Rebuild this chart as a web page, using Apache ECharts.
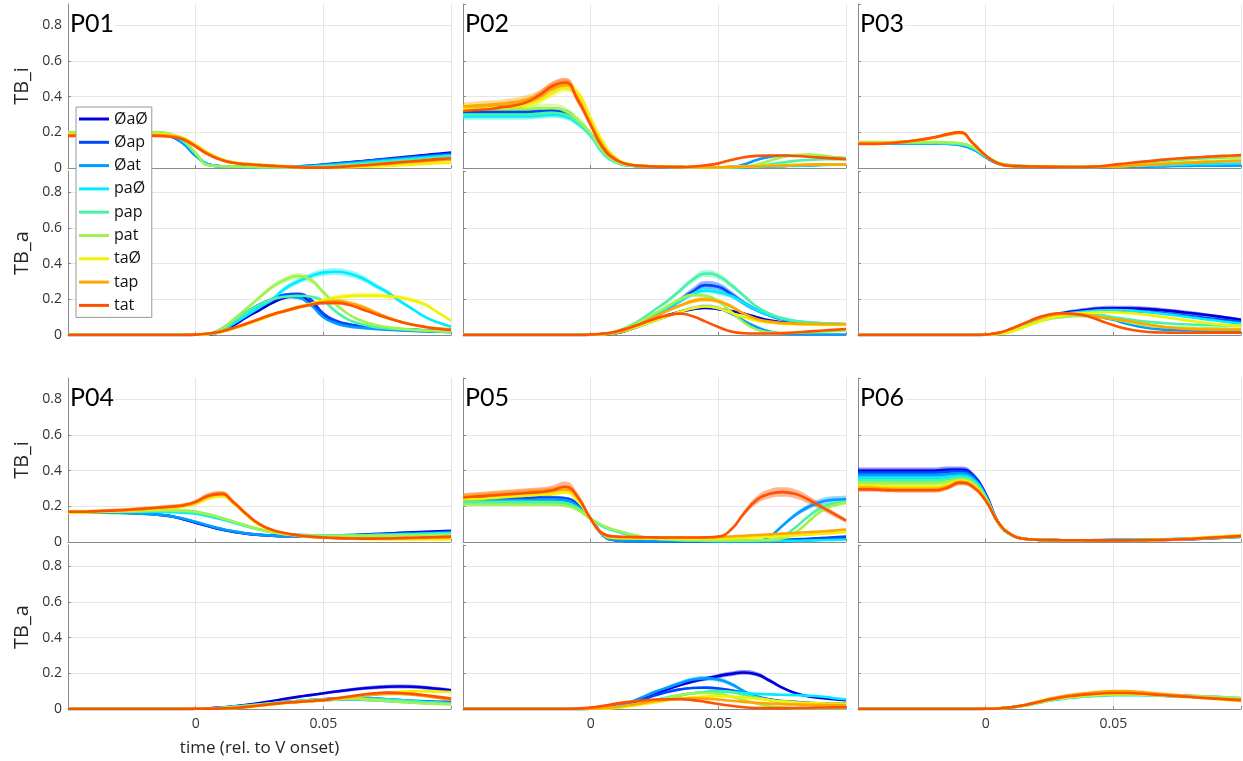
<!DOCTYPE html>
<html>
<head>
<meta charset="utf-8">
<script src="https://cdn.jsdelivr.net/npm/echarts@6.0.0/dist/echarts.min.js"></script>
<style>
html,body{margin:0;padding:0;background:#fff;}
#chart{width:1243px;height:761px;}
</style>
</head>
<body>
<div id="chart"></div>
<script>
// ---------- data ----------
const T = [-0.05,-0.045,-0.04,-0.035,-0.03,-0.025,-0.02,-0.015,-0.01,-0.005,0,0.005,0.01,0.015,0.02,0.025,0.03,0.035,0.04,0.045,0.05,0.055,0.06,0.065,0.07,0.075,0.08,0.085,0.09,0.095,0.1];
const NAMES = ['ØaØ','Øap','Øat','paØ','pap','pat','taØ','tap','tat'];
const PANELS = ['P01','P02','P03','P04','P05','P06'];
const Y_NAMES = ['TB_i','TB_a'];
const X_TITLE = 'time (rel. to V onset)';
const Y_TICK_LABELS = ['0','0.2','0.4','0.6','0.8'];
const X_TICK_VALUES = [0, 0.05];
const X_TICK_LABELS = ['0','0.05'];

// rows: ØaØ, Øap, Øat, paØ, pap, pat, taØ, tap, tat  (31 samples each, time = T)
const P01_TBi = [
[.19,.19,.19,.19,.19,.19,.19,.19,.18,.14,.07,.02,.01,.008,.006,.005,.005,.006,.008,.012,.018,.024,.031,.038,.045,.052,.059,.066,.073,.08,.087],
[.19,.19,.19,.19,.19,.19,.19,.19,.18,.14,.07,.02,.01,.008,.006,.005,.005,.006,.008,.013,.02,.026,.032,.038,.044,.05,.056,.062,.068,.074,.08],
[.19,.19,.19,.19,.19,.19,.19,.19,.18,.14,.07,.02,.01,.008,.006,.005,.005,.006,.008,.012,.017,.022,.028,.034,.04,.046,.052,.058,.063,.068,.073],
[.19,.19,.19,.19,.19,.19,.19,.19,.185,.15,.08,.02,.01,.008,.006,.005,.004,.004,.005,.008,.012,.017,.022,.028,.034,.04,.046,.052,.058,.064,.07],
[.195,.195,.195,.195,.195,.195,.2,.2,.19,.155,.08,.015,.01,.008,.006,.005,.004,.004,.004,.006,.009,.013,.018,.023,.028,.034,.04,.046,.052,.058,.064],
[.2,.2,.2,.2,.2,.2,.2,.2,.19,.16,.085,.015,.01,.008,.006,.005,.004,.003,.003,.004,.006,.01,.014,.018,.022,.027,.032,.037,.042,.046,.05],
[.19,.19,.19,.19,.19,.19,.19,.19,.185,.17,.13,.085,.05,.032,.024,.019,.014,.01,.006,.004,.003,.004,.005,.007,.009,.012,.015,.019,.023,.027,.03],
[.185,.185,.185,.185,.185,.185,.185,.185,.18,.165,.125,.08,.047,.03,.022,.017,.013,.009,.005,.003,.003,.005,.009,.013,.018,.023,.028,.033,.038,.043,.047],
[.18,.18,.18,.18,.18,.18,.18,.18,.175,.16,.12,.075,.045,.028,.021,.016,.012,.008,.004,.002,.002,.005,.01,.015,.02,.026,.032,.038,.044,.05,.055]
];
const P01_TBa = [
[0,0,0,0,0,0,0,0,0,0,.001,.003,.02,.055,.1,.14,.18,.21,.22,.18,.11,.075,.058,.048,.04,.035,.031,.028,.025,.022,.02],
[0,0,0,0,0,0,0,0,0,0,.001,.004,.03,.08,.13,.17,.2,.225,.23,.2,.12,.08,.06,.05,.043,.038,.034,.03,.027,.024,.022],
[0,0,0,0,0,0,0,0,0,0,.001,.005,.035,.085,.13,.17,.2,.215,.21,.17,.1,.065,.048,.04,.034,.03,.026,.023,.02,.018,.016],
[0,0,0,0,0,0,0,0,0,0,.001,.005,.025,.065,.11,.155,.2,.26,.3,.33,.35,.355,.345,.32,.28,.24,.19,.145,.1,.07,.047],
[0,0,0,0,0,0,0,0,0,0,.001,.005,.03,.08,.13,.17,.2,.215,.22,.215,.19,.13,.085,.06,.045,.037,.032,.028,.025,.022,.02],
[0,0,0,0,0,0,0,0,0,0,.001,.005,.035,.09,.15,.21,.27,.31,.33,.31,.24,.17,.115,.08,.058,.045,.036,.03,.025,.022,.02],
[0,0,0,0,0,0,0,0,0,0,.002,.006,.017,.035,.06,.085,.11,.135,.155,.175,.195,.21,.218,.222,.222,.218,.21,.195,.17,.125,.08],
[0,0,0,0,0,0,0,0,0,0,.002,.008,.02,.04,.065,.09,.115,.135,.155,.17,.185,.19,.18,.16,.13,.1,.075,.058,.045,.037,.032],
[0,0,0,0,0,0,0,0,0,0,.002,.008,.02,.04,.065,.09,.115,.135,.155,.17,.18,.18,.17,.145,.12,.095,.075,.058,.045,.035,.028]
];
const P02_TBi = [
[.31,.31,.31,.31,.31,.31,.315,.32,.31,.26,.19,.09,.035,.015,.01,.008,.006,.005,.004,.004,.004,.005,.006,.008,.01,.012,.014,.016,.018,.02,.02],
[.315,.315,.315,.315,.315,.315,.318,.322,.312,.262,.19,.09,.035,.015,.01,.008,.006,.005,.004,.004,.004,.005,.006,.008,.01,.012,.014,.016,.018,.02,.02],
[.3,.3,.3,.3,.3,.3,.305,.31,.3,.255,.185,.085,.033,.015,.01,.008,.006,.005,.004,.004,.004,.005,.02,.045,.062,.068,.07,.068,.063,.058,.055],
[.29,.29,.29,.29,.29,.29,.295,.3,.29,.25,.18,.08,.03,.014,.01,.008,.006,.005,.004,.004,.004,.004,.005,.006,.008,.01,.012,.014,.016,.018,.02],
[.3,.3,.3,.3,.3,.3,.305,.31,.3,.255,.185,.085,.033,.015,.01,.008,.006,.005,.004,.004,.004,.005,.007,.012,.02,.03,.04,.045,.048,.05,.05],
[.33,.33,.33,.33,.33,.33,.335,.335,.32,.27,.195,.09,.035,.015,.01,.008,.006,.005,.004,.004,.004,.005,.006,.02,.04,.06,.073,.075,.07,.062,.055],
[.33,.33,.335,.34,.345,.355,.38,.42,.45,.42,.28,.14,.055,.022,.013,.009,.007,.006,.005,.004,.004,.006,.009,.012,.014,.016,.018,.019,.02,.02,.02],
[.345,.35,.355,.36,.37,.385,.41,.45,.47,.39,.25,.12,.05,.02,.012,.009,.007,.006,.005,.004,.004,.006,.008,.01,.012,.014,.016,.018,.019,.02,.02],
[.32,.325,.33,.34,.35,.37,.41,.46,.48,.38,.24,.11,.045,.02,.012,.008,.006,.005,.008,.015,.026,.045,.06,.068,.07,.07,.067,.063,.058,.054,.05]
];
const P02_TBa = [
[0,0,0,0,0,0,0,0,0,0,.002,.005,.01,.03,.055,.085,.11,.13,.145,.152,.145,.135,.12,.1,.082,.072,.066,.063,.061,.06,.06],
[0,0,0,0,0,0,0,0,0,0,.002,.005,.012,.035,.065,.1,.145,.195,.245,.28,.27,.23,.18,.14,.11,.088,.075,.068,.064,.062,.06],
[0,0,0,0,0,0,0,0,0,0,.002,.005,.012,.03,.055,.08,.105,.13,.15,.16,.15,.12,.08,.045,.02,.008,.004,.003,.003,.003,.003],
[0,0,0,0,0,0,0,0,0,0,.002,.005,.015,.04,.075,.11,.15,.19,.23,.25,.24,.22,.18,.14,.11,.09,.078,.07,.066,.063,.06],
[0,0,0,0,0,0,0,0,0,0,.002,.006,.02,.05,.09,.14,.19,.25,.31,.345,.33,.28,.22,.16,.12,.095,.08,.072,.067,.064,.062],
[0,0,0,0,0,0,0,0,0,0,.002,.006,.02,.045,.08,.12,.16,.2,.225,.22,.19,.13,.07,.03,.015,.012,.013,.016,.019,.022,.025],
[0,0,0,0,0,0,0,0,0,0,.001,.004,.012,.03,.055,.08,.105,.13,.15,.16,.15,.125,.1,.08,.07,.064,.06,.058,.057,.056,.056],
[0,0,0,0,0,0,0,0,0,0,.002,.005,.014,.035,.065,.1,.135,.165,.19,.2,.19,.16,.12,.09,.075,.068,.064,.062,.061,.06,.06],
[0,0,0,0,0,0,0,0,0,0,.003,.008,.02,.04,.065,.09,.11,.12,.105,.075,.045,.02,.01,.008,.008,.01,.014,.019,.024,.029,.034]
];
const P03_TBi = [
[.14,.14,.14,.14,.14,.14,.14,.138,.132,.11,.062,.025,.013,.01,.008,.007,.006,.006,.006,.007,.008,.009,.01,.011,.012,.013,.014,.015,.016,.016,.017],
[.14,.14,.14,.14,.14,.14,.14,.138,.132,.11,.062,.025,.013,.01,.008,.007,.006,.006,.006,.007,.008,.009,.01,.011,.012,.013,.014,.015,.016,.018,.02],
[.138,.138,.138,.138,.138,.138,.138,.135,.128,.105,.06,.024,.013,.01,.008,.007,.006,.006,.006,.006,.007,.008,.008,.009,.01,.011,.012,.013,.013,.014,.015],
[.14,.14,.14,.14,.14,.14,.14,.138,.133,.112,.064,.027,.014,.01,.008,.007,.006,.006,.006,.007,.008,.01,.012,.014,.016,.018,.02,.021,.022,.024,.025],
[.142,.142,.142,.142,.142,.142,.142,.14,.136,.115,.066,.028,.015,.011,.009,.008,.007,.007,.008,.01,.015,.02,.027,.034,.04,.045,.05,.054,.057,.059,.06],
[.145,.145,.145,.145,.145,.145,.145,.143,.138,.118,.068,.03,.016,.012,.01,.008,.007,.007,.008,.01,.016,.022,.03,.037,.044,.05,.055,.059,.062,.064,.065],
[.14,.14,.14,.145,.15,.16,.17,.185,.195,.14,.07,.025,.012,.009,.008,.007,.006,.006,.006,.007,.009,.012,.016,.02,.025,.029,.033,.037,.04,.043,.045],
[.14,.14,.14,.145,.15,.16,.172,.188,.2,.14,.07,.025,.012,.009,.008,.007,.006,.006,.006,.007,.009,.012,.015,.019,.023,.027,.03,.033,.036,.038,.04],
[.135,.135,.137,.142,.15,.16,.172,.19,.2,.138,.07,.025,.012,.009,.008,.007,.006,.006,.007,.01,.018,.025,.033,.04,.047,.053,.058,.062,.066,.069,.072]
];
const P03_TBa = [
[0,0,0,0,0,0,0,0,0,0,.002,.01,.03,.06,.088,.108,.122,.133,.142,.148,.15,.15,.148,.144,.138,.131,.123,.115,.106,.096,.086],
[0,0,0,0,0,0,0,0,0,0,.002,.01,.03,.06,.088,.105,.118,.127,.133,.137,.138,.137,.134,.129,.122,.114,.106,.098,.09,.082,.075],
[0,0,0,0,0,0,0,0,0,0,.002,.01,.03,.06,.085,.1,.11,.115,.11,.1,.085,.065,.048,.036,.03,.027,.025,.024,.023,.022,.021],
[0,0,0,0,0,0,0,0,0,0,.002,.01,.03,.058,.085,.103,.116,.126,.133,.138,.14,.138,.133,.126,.118,.109,.1,.09,.081,.072,.065],
[0,0,0,0,0,0,0,0,0,0,.002,.008,.025,.05,.075,.095,.105,.11,.112,.11,.1,.09,.08,.072,.066,.062,.059,.057,.055,.053,.052],
[0,0,0,0,0,0,0,0,0,0,.001,.006,.02,.045,.07,.09,.1,.105,.105,.1,.09,.075,.06,.05,.045,.042,.04,.038,.037,.036,.035],
[0,0,0,0,0,0,0,0,0,0,.001,.006,.02,.045,.07,.095,.11,.12,.125,.128,.128,.124,.118,.11,.1,.09,.08,.07,.062,.056,.05],
[0,0,0,0,0,0,0,0,0,0,.003,.012,.035,.065,.09,.11,.118,.116,.11,.1,.09,.08,.068,.056,.045,.038,.034,.031,.03,.03,.03],
[0,0,0,0,0,0,0,0,0,0,.003,.012,.035,.065,.095,.115,.122,.118,.105,.08,.055,.035,.022,.016,.014,.013,.013,.013,.013,.013,.013]
];
const P04_TBi = [
[.17,.17,.17,.168,.166,.163,.16,.153,.145,.128,.108,.088,.07,.056,.046,.039,.035,.033,.033,.034,.035,.037,.039,.042,.045,.048,.051,.054,.057,.06,.063],
[.17,.17,.17,.168,.166,.163,.16,.154,.146,.13,.11,.09,.072,.058,.047,.04,.036,.034,.033,.033,.034,.035,.037,.039,.041,.044,.047,.05,.052,.055,.058],
[.165,.165,.165,.164,.163,.161,.158,.153,.146,.132,.113,.093,.075,.06,.048,.041,.036,.033,.032,.032,.033,.034,.035,.037,.039,.041,.043,.045,.047,.05,.052],
[.168,.168,.168,.168,.168,.168,.168,.168,.167,.164,.158,.145,.128,.108,.088,.07,.055,.045,.04,.038,.037,.037,.038,.039,.04,.041,.043,.045,.047,.049,.05],
[.172,.172,.172,.172,.172,.172,.173,.174,.174,.172,.166,.152,.133,.112,.09,.07,.055,.045,.04,.037,.036,.036,.036,.037,.038,.039,.04,.041,.042,.044,.045],
[.17,.17,.17,.17,.171,.172,.174,.176,.177,.176,.17,.156,.136,.114,.092,.071,.055,.044,.038,.035,.034,.034,.034,.034,.035,.035,.036,.037,.038,.039,.04],
[.165,.165,.167,.17,.173,.177,.182,.187,.193,.2,.215,.245,.258,.215,.15,.095,.063,.045,.035,.028,.024,.021,.019,.017,.016,.015,.014,.014,.015,.015,.016],
[.17,.17,.171,.174,.177,.181,.186,.191,.197,.204,.222,.255,.268,.22,.155,.1,.067,.048,.037,.03,.026,.023,.021,.02,.02,.02,.021,.022,.023,.024,.025],
[.17,.17,.172,.175,.178,.182,.187,.192,.198,.205,.225,.26,.27,.22,.155,.1,.068,.05,.038,.03,.025,.022,.02,.019,.019,.02,.022,.024,.026,.028,.03]
];
const P04_TBa = [
[0,0,0,0,0,0,0,0,0,0,.001,.003,.008,.015,.024,.034,.045,.057,.068,.078,.088,.098,.107,.115,.121,.125,.126,.125,.12,.113,.105],
[0,0,0,0,0,0,0,0,0,0,.001,.003,.008,.014,.02,.027,.034,.04,.045,.05,.055,.06,.063,.063,.06,.055,.05,.046,.043,.041,.04],
[0,0,0,0,0,0,0,0,0,0,.001,.003,.007,.012,.018,.024,.03,.036,.041,.045,.049,.052,.053,.052,.049,.045,.041,.037,.034,.032,.03],
[0,0,0,0,0,0,0,0,0,0,.001,.002,.006,.012,.018,.025,.032,.038,.044,.05,.055,.058,.06,.06,.058,.055,.05,.045,.04,.036,.033],
[0,0,0,0,0,0,0,0,0,0,.001,.002,.006,.012,.018,.025,.032,.038,.044,.049,.053,.056,.057,.056,.053,.049,.044,.04,.036,.033,.03],
[0,0,0,0,0,0,0,0,0,0,.001,.002,.005,.011,.017,.024,.031,.037,.043,.048,.052,.055,.056,.054,.05,.045,.04,.035,.031,.028,.025],
[0,0,0,0,0,0,0,0,0,0,.001,.001,.002,.005,.01,.017,.025,.032,.038,.043,.048,.055,.063,.072,.082,.09,.096,.1,.1,.098,.095],
[0,0,0,0,0,0,0,0,0,0,.001,.002,.003,.006,.012,.02,.028,.035,.04,.045,.05,.058,.066,.074,.08,.084,.084,.08,.072,.062,.052],
[0,0,0,0,0,0,0,0,0,0,.001,.002,.003,.006,.012,.02,.028,.035,.04,.045,.05,.06,.07,.08,.088,.092,.09,.085,.077,.068,.058]
];
const P05_TBi = [
[.24,.24,.24,.24,.24,.24,.24,.24,.235,.2,.13,.04,.01,.006,.005,.004,.004,.003,.003,.003,.003,.003,.003,.003,.004,.005,.007,.01,.013,.016,.02],
[.24,.24,.245,.245,.245,.245,.25,.25,.245,.21,.13,.035,.01,.006,.005,.004,.004,.004,.004,.004,.005,.006,.007,.008,.01,.012,.015,.018,.022,.026,.03],
[.235,.235,.235,.235,.235,.235,.24,.24,.235,.2,.13,.035,.01,.006,.005,.004,.004,.004,.004,.004,.004,.004,.004,.005,.03,.09,.15,.195,.225,.237,.24],
[.22,.22,.22,.22,.22,.22,.22,.22,.215,.19,.13,.085,.06,.04,.026,.018,.013,.01,.008,.006,.005,.005,.005,.005,.005,.006,.007,.008,.01,.012,.014],
[.225,.225,.225,.225,.225,.225,.225,.225,.22,.19,.13,.09,.065,.045,.03,.02,.015,.011,.009,.008,.008,.008,.008,.009,.01,.03,.08,.14,.19,.215,.225],
[.21,.21,.21,.21,.21,.21,.21,.21,.205,.18,.13,.09,.065,.045,.03,.02,.015,.012,.01,.009,.009,.009,.009,.01,.012,.02,.05,.11,.17,.205,.22],
[.24,.24,.245,.25,.255,.26,.265,.27,.28,.23,.13,.04,.022,.02,.02,.02,.02,.02,.02,.02,.021,.022,.024,.027,.03,.033,.037,.041,.045,.05,.055],
[.255,.26,.265,.27,.275,.28,.285,.29,.3,.25,.13,.045,.03,.028,.027,.026,.025,.025,.025,.026,.028,.031,.035,.039,.043,.047,.051,.055,.059,.064,.07],
[.25,.255,.26,.265,.27,.275,.28,.29,.31,.25,.13,.045,.03,.028,.027,.026,.025,.025,.025,.026,.03,.07,.16,.235,.27,.28,.27,.24,.2,.16,.12]
];
const P05_TBa = [
[0,0,0,0,0,0,0,0,0,0,.001,.005,.015,.03,.055,.08,.11,.135,.155,.17,.185,.197,.205,.195,.16,.12,.09,.072,.062,.055,.05],
[0,0,0,0,0,0,0,0,0,0,.001,.005,.015,.03,.05,.075,.095,.11,.118,.12,.115,.105,.09,.07,.055,.045,.04,.035,.032,.03,.03],
[0,0,0,0,0,0,0,0,0,0,.001,.005,.015,.035,.065,.095,.12,.145,.165,.172,.165,.14,.1,.07,.05,.04,.035,.032,.03,.03,.03],
[0,0,0,0,0,0,0,0,0,0,.001,.003,.01,.02,.035,.05,.065,.078,.088,.095,.098,.096,.09,.085,.082,.08,.078,.075,.07,.062,.055],
[0,0,0,0,0,0,0,0,0,0,.001,.002,.008,.018,.03,.045,.06,.075,.088,.096,.1,.095,.08,.065,.05,.038,.03,.025,.022,.02,.02],
[0,0,0,0,0,0,0,0,0,0,.001,.002,.008,.018,.03,.045,.062,.078,.088,.09,.085,.07,.05,.03,.015,.008,.005,.005,.005,.005,.005],
[0,0,0,0,0,0,0,0,0,0,.001,.002,.007,.015,.025,.037,.048,.058,.065,.07,.072,.07,.065,.058,.05,.043,.038,.034,.032,.03,.03],
[0,0,0,0,0,0,0,0,0,0,.002,.005,.012,.022,.033,.043,.052,.058,.06,.058,.053,.046,.04,.035,.03,.027,.025,.024,.023,.022,.022],
[0,0,0,0,0,0,0,0,0,.002,.008,.018,.03,.04,.048,.053,.055,.055,.05,.04,.028,.018,.01,.006,.005,.005,.006,.007,.008,.009,.01]
];
const P06_TBi = [
[.4,.4,.4,.4,.4,.4,.4,.405,.405,.375,.27,.11,.04,.018,.013,.011,.01,.01,.009,.009,.009,.009,.01,.011,.012,.014,.016,.019,.022,.026,.03],
[.39,.39,.39,.39,.39,.39,.39,.395,.398,.37,.265,.108,.04,.018,.013,.011,.01,.01,.01,.01,.011,.012,.012,.013,.014,.016,.018,.021,.024,.028,.032],
[.375,.375,.375,.375,.375,.375,.375,.38,.385,.36,.26,.106,.04,.018,.013,.011,.01,.01,.01,.011,.012,.013,.013,.014,.015,.017,.019,.022,.025,.029,.033],
[.36,.36,.36,.36,.36,.36,.36,.365,.372,.35,.255,.105,.04,.018,.013,.011,.01,.01,.01,.01,.011,.012,.012,.013,.014,.016,.018,.021,.024,.027,.03],
[.345,.345,.345,.345,.345,.345,.345,.352,.362,.34,.25,.104,.04,.018,.013,.011,.01,.01,.01,.01,.01,.011,.011,.012,.013,.015,.017,.019,.022,.025,.028],
[.33,.33,.33,.33,.33,.33,.33,.338,.352,.33,.245,.103,.04,.018,.013,.011,.01,.01,.01,.01,.01,.01,.011,.012,.013,.015,.018,.021,.025,.029,.034],
[.315,.315,.313,.31,.31,.31,.31,.322,.345,.322,.24,.11,.042,.018,.013,.011,.01,.01,.009,.009,.009,.009,.01,.011,.013,.016,.02,.025,.03,.035,.04],
[.305,.305,.3,.298,.298,.298,.298,.312,.338,.315,.235,.11,.042,.018,.013,.011,.01,.01,.009,.009,.009,.009,.01,.011,.013,.015,.018,.022,.026,.03,.035],
[.295,.295,.292,.29,.29,.29,.29,.305,.333,.31,.232,.108,.042,.018,.013,.011,.01,.01,.009,.009,.009,.009,.01,.011,.012,.014,.017,.021,.025,.029,.033]
];
const P06_TBa = [
[0,0,0,0,0,0,0,0,0,0,.001,.003,.01,.02,.035,.05,.062,.07,.076,.08,.083,.084,.082,.078,.075,.073,.071,.068,.062,.054,.046],
[0,0,0,0,0,0,0,0,0,0,.001,.003,.01,.02,.035,.05,.062,.07,.076,.08,.083,.084,.082,.079,.076,.074,.072,.07,.066,.06,.055],
[0,0,0,0,0,0,0,0,0,0,.001,.003,.01,.02,.035,.05,.062,.07,.076,.08,.083,.084,.082,.079,.077,.075,.073,.071,.068,.064,.06],
[0,0,0,0,0,0,0,0,0,0,.001,.003,.009,.018,.032,.046,.057,.064,.07,.074,.077,.078,.077,.075,.073,.071,.07,.068,.065,.061,.057],
[0,0,0,0,0,0,0,0,0,0,.001,.003,.01,.02,.034,.049,.061,.069,.075,.079,.082,.083,.082,.079,.076,.074,.072,.07,.067,.063,.059],
[0,0,0,0,0,0,0,0,0,0,.001,.003,.009,.018,.033,.048,.06,.068,.074,.078,.081,.082,.081,.078,.076,.074,.072,.071,.069,.066,.062],
[0,0,0,0,0,0,0,0,0,0,.001,.003,.01,.02,.035,.05,.062,.07,.077,.082,.085,.085,.083,.079,.075,.071,.067,.062,.056,.05,.045],
[0,0,0,0,0,0,0,0,0,0,.001,.003,.01,.022,.04,.058,.072,.082,.09,.097,.1,.1,.096,.09,.084,.078,.072,.066,.06,.055,.05],
[0,0,0,0,0,0,0,0,0,0,.001,.003,.01,.021,.037,.053,.066,.075,.082,.087,.09,.09,.087,.082,.077,.072,.067,.062,.058,.054,.05]
];
// relative spread (shaded band thickness / value) per condition
const P01_TBi_se = [.05,.05,.05,.05,.05,.07,.06,.07,.07];
const P01_TBa_se = [.09,.09,.09,.11,.07,.11,.13,.13,.11];
const P02_TBi_se = [.11,.11,.11,.13,.15,.15,.11,.13,.11];
const P02_TBa_se = [.09,.16,.13,.13,.11,.11,.09,.13,.11];
const P03_TBi_se = [.06,.06,.06,.06,.07,.07,.07,.09,.07];
const P03_TBa_se = [.18,.09,.09,.09,.09,.09,.09,.09,.09];
const P04_TBi_se = [.07,.07,.07,.07,.09,.09,.09,.13,.11];
const P04_TBa_se = [.18,.11,.11,.11,.11,.11,.13,.13,.13];
const P05_TBi_se = [.07,.07,.16,.07,.11,.11,.09,.11,.19];
const P05_TBa_se = [.13,.11,.16,.07,.11,.11,.07,.07,.07];
const P06_TBi_se = [.09,.09,.09,.09,.09,.09,.09,.11,.09];
const P06_TBa_se = [.09,.09,.09,.09,.09,.09,.09,.09,.09];

// ---------- layout / style ----------
const COLORS = ['#0000dd','#0048ff','#009cff','#00ecff','#48f2a8','#a0f250','#f2f200','#ffa600','#ff5200'];
const SUBPLOTS = [
  [P01_TBi, P01_TBi_se], [P01_TBa, P01_TBa_se],
  [P02_TBi, P02_TBi_se], [P02_TBa, P02_TBa_se],
  [P03_TBi, P03_TBi_se], [P03_TBa, P03_TBa_se],
  [P04_TBi, P04_TBi_se], [P04_TBa, P04_TBa_se],
  [P05_TBi, P05_TBi_se], [P05_TBa, P05_TBa_se],
  [P06_TBi, P06_TBi_se], [P06_TBa, P06_TBa_se]
];
const COL_LEFT = [68, 463, 858];
const ROW_TOP = [[4, 171], [378, 545]];
const GW = 383, GH = 164, YMAX = 0.92;
const AXIS_COLOR = '#8a8a8a', GRID_COLOR = '#e6e6e6';
const FONT = "'Open Sans', 'Noto Sans', sans-serif";

// every 0.05 s on the time axis (index 0, 10, 20, 30)
const isMajor = idx => Math.abs(T[idx] / 0.05 - Math.round(T[idx] / 0.05)) < 1e-6;
const xLabel = idx => {
  for (let j = 0; j < X_TICK_VALUES.length; j++) if (Math.abs(T[idx] - X_TICK_VALUES[j]) < 1e-9) return X_TICK_LABELS[j];
  return '';
};

const grids = [], xAxes = [], yAxes = [], series = [], graphics = [];

SUBPLOTS.forEach((sp, g) => {
  const panel = Math.floor(g / 2), sub = g % 2;
  const col = panel % 3, row = Math.floor(panel / 3);
  const left = COL_LEFT[col], top = ROW_TOP[row][sub];
  grids.push({left: left, top: top, width: GW, height: GH, containLabel: false});
  const showX = (row === 1 && sub === 1);
  xAxes.push({
    type: 'category', gridIndex: g, data: T.map(String), boundaryGap: false,
    axisLine: {show: true, onZero: false, lineStyle: {color: AXIS_COLOR, width: 1}},
    axisTick: {show: true, inside: true, length: 3, interval: (i) => isMajor(i), lineStyle: {color: AXIS_COLOR}},
    axisLabel: {show: showX, fontSize: 14, color: '#333', fontFamily: FONT, margin: 8,
      interval: (i) => xLabel(i) !== '', formatter: (v, i) => xLabel(i)},
    splitLine: {show: true, interval: (i) => isMajor(i) && i > 0, lineStyle: {color: GRID_COLOR, width: 1}}
  });
  yAxes.push({
    type: 'value', gridIndex: g, min: 0, max: YMAX, interval: 0.2,
    axisLine: {show: true, onZero: false, lineStyle: {color: AXIS_COLOR, width: 1}},
    axisTick: {show: true, inside: true, length: 3, lineStyle: {color: AXIS_COLOR}},
    axisLabel: {show: col === 0, fontSize: 14, color: '#333', fontFamily: FONT, margin: 6, showMaxLabel: false,
      formatter: v => { const k = Math.round(v / 0.2); return (Math.abs(v - k * 0.2) < 1e-9 && k < Y_TICK_LABELS.length) ? Y_TICK_LABELS[k] : ''; }},
    splitLine: {show: true, showMaxLine: false, lineStyle: {color: GRID_COLOR, width: 1}}
  });
  const data = sp[0], se = sp[1];
  // shaded spread bands (stacked: invisible lower edge + translucent thickness)
  data.forEach((vals, i) => {
    const stackId = 'b' + g + '_' + i;
    series.push({
      type: 'line', name: 'band' + i, xAxisIndex: g, yAxisIndex: g, stack: stackId, smooth: true,
      symbol: 'none', silent: true, lineStyle: {width: 0, opacity: 0},
      data: vals.map(v => v * (1 - se[i] / 2))
    });
    series.push({
      type: 'line', name: 'band' + i, xAxisIndex: g, yAxisIndex: g, stack: stackId, smooth: true,
      symbol: 'none', silent: true, lineStyle: {width: 0, opacity: 0},
      areaStyle: {color: COLORS[i], opacity: 0.42},
      data: vals.map(v => v * se[i])
    });
  });
  // mean lines
  data.forEach((vals, i) => {
    series.push({
      type: 'line', name: NAMES[i], xAxisIndex: g, yAxisIndex: g, smooth: true,
      symbol: 'none', showSymbol: false,
      lineStyle: {width: 2.6, color: COLORS[i]}, itemStyle: {color: COLORS[i]},
      data: vals
    });
  });
  if (col === 0) {
    graphics.push({type: 'text', x: 22, y: top + GH / 2, rotation: Math.PI / 2,
      style: {text: Y_NAMES[sub], fontSize: 20, fontFamily: FONT, fill: '#262626', align: 'center', verticalAlign: 'middle'}});
  }
  if (sub === 0) {
    graphics.push({type: 'text', x: left + 1, y: top + 20, z: 100,
      style: {text: PANELS[panel], fontSize: 25, fontFamily: "Lato, 'Open Sans', sans-serif", fill: '#000',
        align: 'left', verticalAlign: 'middle', backgroundColor: '#fff', padding: [0, 1, 0, 1]}});
  }
});
graphics.push({type: 'text', x: COL_LEFT[0] + GW / 2, y: 748,
  style: {text: X_TITLE, fontSize: 17, fontFamily: FONT, fill: '#262626', align: 'center', verticalAlign: 'middle'}});

const chart = echarts.init(document.getElementById('chart'), null, {renderer: 'canvas'});
chart.setOption({
  animation: false,
  backgroundColor: '#fff',
  grid: grids, xAxis: xAxes, yAxis: yAxes, series: series,
  legend: {
    data: NAMES, orient: 'vertical', left: 76, top: 107,
    icon: 'rect', itemWidth: 30, itemHeight: 3, itemGap: 3.3,
    padding: [2, 4, 2, 3],
    backgroundColor: '#fff', borderColor: '#999', borderWidth: 1,
    textStyle: {fontSize: 16, fontFamily: FONT, color: '#111', lineHeight: 20},
    selectedMode: false
  },
  graphic: graphics
});
</script>
</body>
</html>
